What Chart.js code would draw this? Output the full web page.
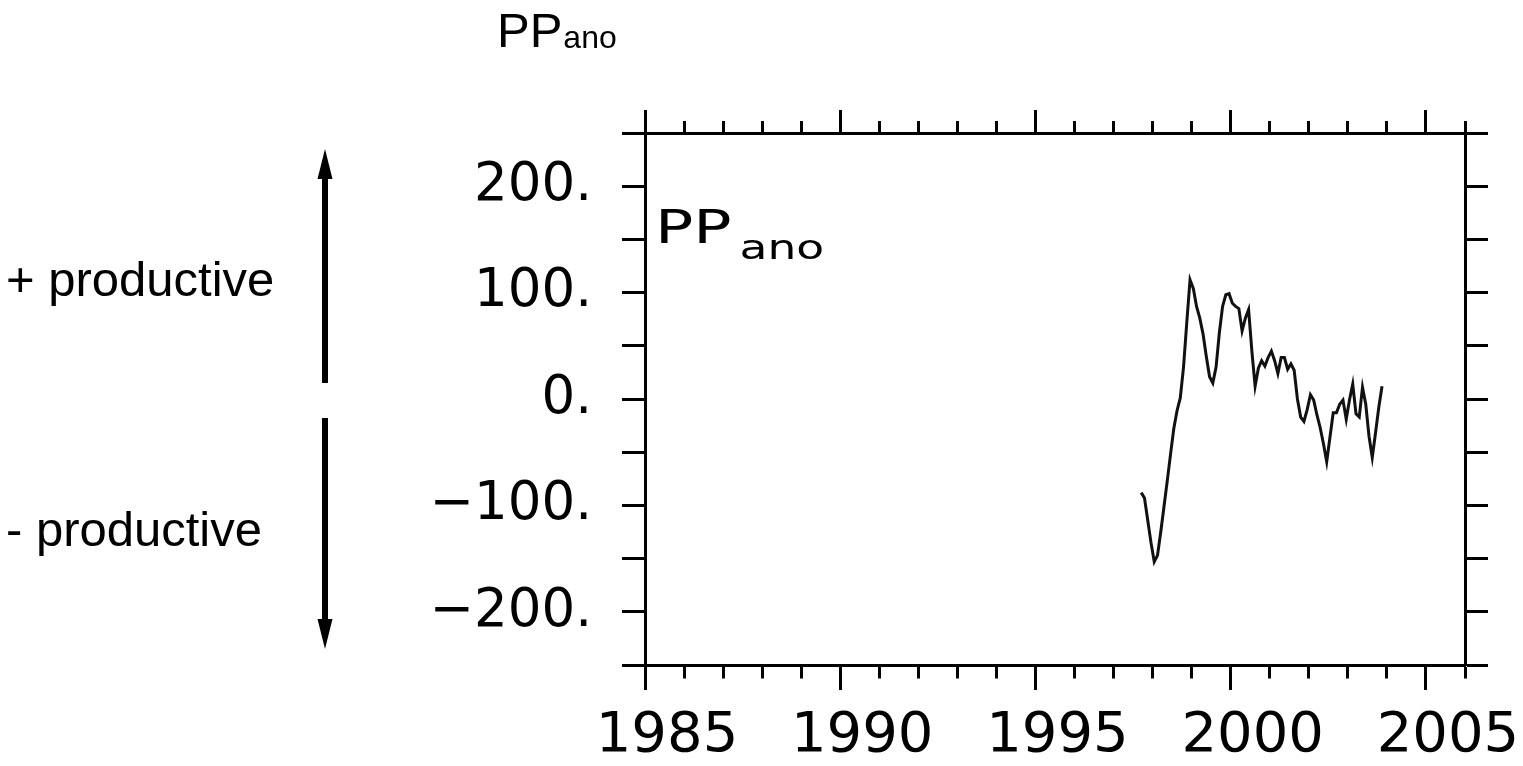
<!DOCTYPE html>
<html>
<head>
<meta charset="utf-8">
<script src="https://cdn.jsdelivr.net/npm/chart.js@4.4.1/dist/chart.umd.min.js"></script>
<style>
  html, body { margin: 0; padding: 0; background: #fff; overflow: hidden; }
  #wrap { position: relative; width: 1523px; height: 766px; }
</style>
</head>
<body>
<div id="wrap"><canvas id="chart" width="1523" height="766"></canvas></div>
<script>
// Year range of the time axis and the years that carry a label
const yearRange = [1985, 2006];
const labelledYears = [1985, 1990, 1995, 2000, 2005];
// Value range of the anomaly axis and the values that carry a label
const valueRange = [-250, 250];
const labelledValues = [-200, -100, 0, 100, 200];

// Monthly primary-production anomaly, starting September 1997
const startYear = 1997;
const startMonth = 9;
const ppAno = [
  -88, -93, -114, -135, -153, -147, -125, -101, -77, -52,
  -28, -11, 1, 30, 72, 112, 104, 87, 76, 61,
  40, 21, 15, 30, 62, 87, 98, 99, 90, 87,
  85, 64, 76, 84, 45, 12, 29, 36, 31, 39,
  45, 36, 24, 39, 39, 28, 33, 27, 0, -17,
  -21, -10, 4, -1, -15, -27, -42, -59, -36, -13,
  -13, -5, -1, -19, -1, 14, -14, -17, 11, -5,
  -35, -55, -32, -8, 12
];

// each monthly value sits at the middle of its month
const points = ppAno.map((v, i) => ({
  x: startYear + (startMonth - 1 + i + 0.5) / 12,
  y: v
}));

const isMajorYear = v => labelledYears.includes(v);
const fmtValue = v => (v < 0 ? '\u2212' + Math.abs(v) : String(v)) + '.';

// draws text stretched horizontally, anchored at its left baseline point
function wideText(ctx, text, x, y, font, stretch) {
  ctx.save();
  ctx.font = font;
  ctx.translate(x, y);
  ctx.scale(stretch, 1);
  ctx.fillText(text, 0, 0);
  const w = ctx.measureText(text).width * stretch;
  ctx.restore();
  return w;
}

// arrows and text around the plot
const annotations = {
  id: 'annotations',
  afterDraw(chart) {
    const ctx = chart.ctx;
    ctx.save();
    ctx.fillStyle = '#000';

    // page title with subscript
    ctx.textBaseline = 'alphabetic';
    ctx.textAlign = 'left';
    ctx.font = '49px "Liberation Sans", Arial, sans-serif';
    ctx.fillText('PP', 497, 47);
    const w = ctx.measureText('PP').width;
    ctx.font = '32px "Liberation Sans", Arial, sans-serif';
    ctx.fillText('ano', 497 + w + 1, 48);

    // productivity hints
    ctx.font = '49px "Liberation Sans", Arial, sans-serif';
    ctx.fillText('+ productive', 6, 296);
    ctx.fillText('- productive', 6, 546);

    // up arrow
    ctx.fillRect(322, 172, 6, 211);
    ctx.beginPath();
    ctx.moveTo(325, 149);
    ctx.lineTo(317.5, 179);
    ctx.lineTo(332.5, 179);
    ctx.closePath();
    ctx.fill();
    // down arrow
    ctx.fillRect(322, 418, 6, 210);
    ctx.beginPath();
    ctx.moveTo(325, 649);
    ctx.lineTo(317.5, 619);
    ctx.lineTo(332.5, 619);
    ctx.closePath();
    ctx.fill();

    // in-plot series label
    const area = chart.chartArea;
    const pw = wideText(ctx, 'PP', area.left + 10, 243, '46px "DejaVu Sans", sans-serif', 1.38);
    wideText(ctx, 'ano', area.left + 10 + pw + 8, 259, '34px "DejaVu Sans", sans-serif', 1.34);
    ctx.restore();
  }
};

const axisFontTicks = { family: '"DejaVu Sans", sans-serif', size: 56 };
const axisFontValues = { family: '"DejaVu Sans", sans-serif', size: 53 };

new Chart(document.getElementById('chart'), {
  type: 'line',
  data: {
    datasets: [{
      label: 'PPano',
      data: points,
      xAxisID: 'x',
      yAxisID: 'y',
      borderColor: '#111',
      borderWidth: 3,
      pointRadius: 0,
      tension: 0,
      fill: false
    }]
  },
  options: {
    responsive: false,
    devicePixelRatio: 1,
    animation: false,
    layout: { padding: 0 },
    plugins: {
      legend: { display: false },
      title: { display: false },
      tooltip: { enabled: false }
    },
    scales: {
      x: {
        type: 'linear',
        position: 'bottom',
        min: yearRange[0],
        max: yearRange[1],
        afterFit: s => { s.height = 101; },
        ticks: {
          stepSize: 1,
          autoSkip: false,
          minRotation: 0,
          maxRotation: 0,
          padding: 13,
          labelOffset: 22,
          color: '#000',
          font: axisFontTicks,
          callback: v => isMajorYear(v) ? String(v) : ''
        },
        grid: {
          drawOnChartArea: false,
          drawTicks: true,
          tickLength: 25,
          tickWidth: 3,
          tickColor: '#000',
          tickBorderDash: c => (c.tick && isMajorYear(c.tick.value)) ? [] : [11.5, 100]
        },
        border: { display: true, color: '#000', width: 3 }
      },
      xTop: {
        type: 'linear',
        position: 'top',
        min: yearRange[0],
        max: yearRange[1],
        afterFit: s => { s.height = 133; },
        ticks: {
          stepSize: 1,
          autoSkip: false,
          minRotation: 0,
          maxRotation: 0,
          callback: () => ''
        },
        grid: {
          drawOnChartArea: false,
          drawTicks: true,
          tickLength: 23,
          tickWidth: 3,
          tickColor: '#000',
          tickBorderDash: c => (c.tick && isMajorYear(c.tick.value)) ? [] : [100, 11],
          tickBorderDashOffset: c => (c.tick && isMajorYear(c.tick.value)) ? 0 : 100
        },
        border: { display: true, color: '#000', width: 3 }
      },
      y: {
        type: 'linear',
        position: 'left',
        min: valueRange[0],
        max: valueRange[1],
        afterFit: s => { s.width = 645; },
        ticks: {
          stepSize: 50,
          autoSkip: false,
          padding: 30,
          color: '#000',
          font: axisFontValues,
          callback: v => labelledValues.includes(v) ? fmtValue(v) : ''
        },
        grid: {
          drawOnChartArea: false,
          drawTicks: true,
          tickLength: 23,
          tickWidth: 3,
          tickColor: '#000'
        },
        border: { display: true, color: '#000', width: 3 }
      },
      yRight: {
        type: 'linear',
        position: 'right',
        min: valueRange[0],
        max: valueRange[1],
        afterFit: s => { s.width = 58; },
        ticks: {
          stepSize: 50,
          autoSkip: false,
          callback: () => ''
        },
        grid: {
          drawOnChartArea: false,
          drawTicks: true,
          tickLength: 23,
          tickWidth: 3,
          tickColor: '#000'
        },
        border: { display: true, color: '#000', width: 3 }
      }
    }
  },
  plugins: [annotations]
});
</script>
</body>
</html>
